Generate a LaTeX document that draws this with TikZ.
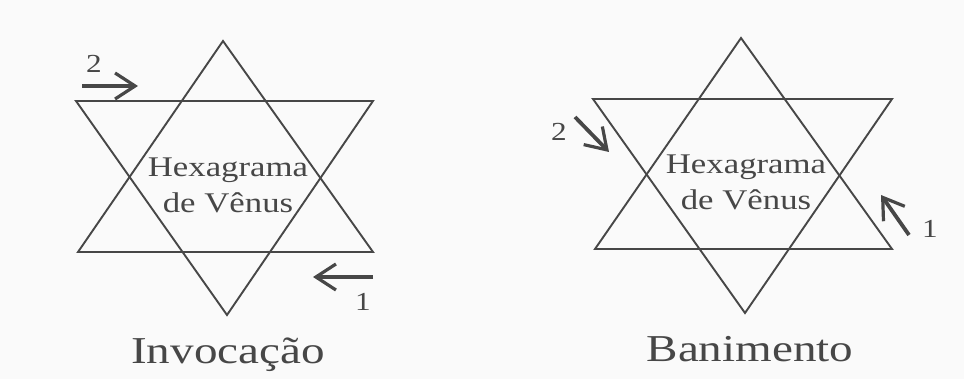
\documentclass[tikz,border=0pt]{standalone}
\usepackage{graphicx}
\usepackage{fontspec}
\setmainfont{Liberation Serif}
\usetikzlibrary{arrows.meta}
\definecolor{ink}{HTML}{474747}
\definecolor{paper}{HTML}{FAFAFA}
\tikzset{
  hexline/.style={draw=ink, line width=1.9pt, line join=miter},
  dirarrow/.style={draw=ink, line width=3.8pt, -{Straight Barb[length=20pt, width=26pt, line width=3.2pt]}},
  hextext/.style={text=ink, inner sep=0pt, anchor=base, font=\fontsize{28.5}{32}\selectfont},
  captext/.style={text=ink, inner sep=0pt, anchor=base, font=\fontsize{38}{42}\selectfont},
  numtext/.style={text=ink, inner sep=0pt, anchor=base, font=\fontsize{26}{30}\selectfont}
}
\begin{document}
\begin{tikzpicture}[x=1pt, y=-1pt]
\fill[paper] (0,0) rectangle (964,379);
\useasboundingbox (0,0) rectangle (964,379);
% left hexagram
\coordinate (La) at (223,41);
\coordinate (Lb) at (78,252);
\coordinate (Lc) at (373,252);
\coordinate (Ld) at (76,101);
\coordinate (Le) at (373,101);
\coordinate (Lf) at (227,315);
\draw[hexline] (La) -- (Lb) -- (Lc) -- cycle;
\draw[hexline] (Ld) -- (Le) -- (Lf) -- cycle;
% right hexagram
\coordinate (Ra) at (741,38);
\coordinate (Rb) at (595,249);
\coordinate (Rc) at (892,249);
\coordinate (Rd) at (593,99);
\coordinate (Re) at (892,99);
\coordinate (Rf) at (745,313);
\draw[hexline] (Ra) -- (Rb) -- (Rc) -- cycle;
\draw[hexline] (Rd) -- (Re) -- (Rf) -- cycle;
% texts
\node[hextext] (hl1) at (228,177) {\scalebox{1.22}[1]{Hexagrama}};
\node[hextext] (hl2) at (228,213) {\scalebox{1.22}[1]{de Vênus}};
\node[hextext] (hr1) at (746,174) {\scalebox{1.22}[1]{Hexagrama}};
\node[hextext] (hr2) at (746,210) {\scalebox{1.22}[1]{de Vênus}};
\node[captext] (capl) at (228,363) {\scalebox{1.24}[1]{Invocação}};
\node[captext] (capr) at (750,362) {\scalebox{1.24}[1]{Banimento}};
% left arrows
\coordinate (l2s) at (82,86);
\coordinate (l2e) at (138,86);
\draw[dirarrow] (l2s) -- (l2e);
\node[numtext] (nl2) at (94,73) {\scalebox{1.2}[1]{2}};
\coordinate (l1s) at (373,277);
\coordinate (l1e) at (313,277);
\draw[dirarrow] (l1s) -- (l1e);
\node[numtext] (nl1) at (363,311) {\scalebox{1.2}[1]{1}};
% right arrows
\coordinate (r2s) at (575,117);
\coordinate (r2e) at (609,152);
\draw[dirarrow] (r2s) -- (r2e);
\node[numtext] (nr2) at (559,141) {\scalebox{1.2}[1]{2}};
\coordinate (r1s) at (909,235);
\coordinate (r1e) at (881,195);
\draw[dirarrow] (r1s) -- (r1e);
\node[numtext] (nr1) at (930,238) {\scalebox{1.2}[1]{1}};
\end{tikzpicture}
\end{document}
